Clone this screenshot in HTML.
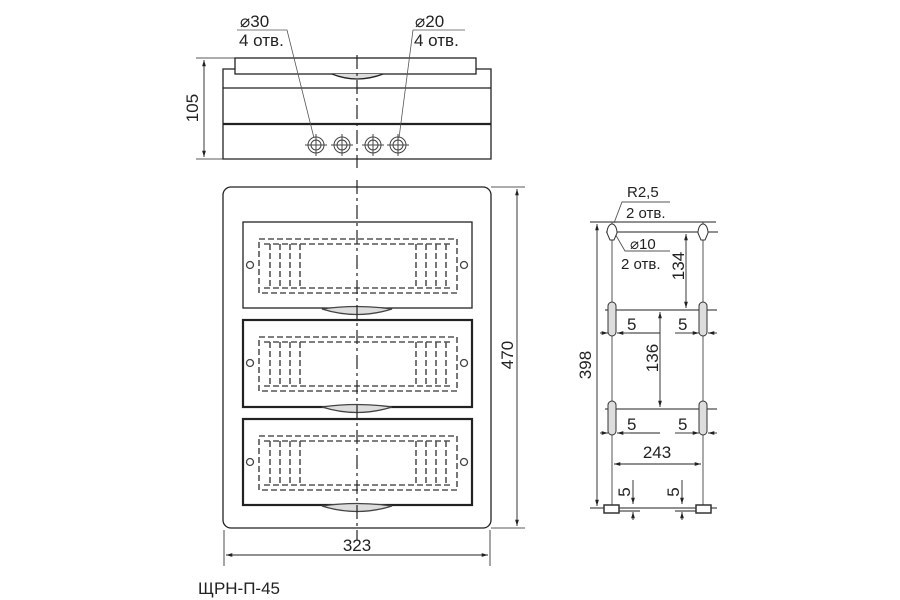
<!DOCTYPE html>
<html><head><meta charset="utf-8"><style>
html,body{margin:0;padding:0;background:#fff}
svg{display:block}
text{font-family:"Liberation Sans","DejaVu Sans",sans-serif;fill:#222}
</style></head><body>
<svg width="900" height="600" viewBox="0 0 900 600" xmlns="http://www.w3.org/2000/svg">
<defs>
<marker id="a" viewBox="0 0 10 10" refX="10" refY="5" markerWidth="7" markerHeight="7" orient="auto-start-reverse"><path d="M0,2 L10,5 L0,8z" fill="#222"/></marker>
<g id="panel">
 <rect x="259" y="17" width="198" height="54" fill="none" stroke="#555" stroke-width="1.6" stroke-dasharray="6,3"/>
 <path d="M264,22 H452 M264,66 H452" stroke="#555" stroke-width="1.6" stroke-dasharray="6,3" fill="none"/>
 <g stroke="#555" stroke-width="1.6" stroke-dasharray="6,3" fill="none">
  <path d="M270,22V66 M280,22V66 M290,22V66 M300,22V66 M416,22V66 M426,22V66 M436,22V66 M446,22V66"/>
 </g>
 <circle cx="250" cy="43" r="3.5" fill="none" stroke="#444"/>
 <circle cx="464" cy="43" r="3.5" fill="none" stroke="#444"/>
 <path d="M322,87 Q357,98 392,87 Q357,82 322,87Z" fill="#ddd" stroke="#444"/>
</g>
</defs>
<g stroke="#222" fill="none" stroke-width="1.3">
 <rect x="235" y="58" width="241" height="16" fill="#fff"/>
 <path d="M235,69 H223 V159 H491 V69 H476"/>
 <path d="M223,88 H491"/>
 <path d="M223,124 H491" stroke-width="2.2"/>
 <path d="M332,74 Q357,84 383,74" fill="#ddd"/>
 <g stroke="#444" stroke-width="1">
  <circle cx="316" cy="145" r="8"/><circle cx="316" cy="145" r="5"/><path d="M305,145H327M316,134V156"/>
  <circle cx="342" cy="145" r="8"/><circle cx="342" cy="145" r="5"/><path d="M331,145H353M342,134V156"/>
  <circle cx="373" cy="145" r="8"/><circle cx="373" cy="145" r="5"/><path d="M362,145H384M373,134V156"/>
  <circle cx="398" cy="145" r="8"/><circle cx="398" cy="145" r="5"/><path d="M387,145H409M398,134V156"/>
 </g>
 <path d="M357,55 V168" stroke-dasharray="14,4,3,4" stroke-width="1.2"/>
 <path d="M196,58 H235 M196,159 H223" stroke-width="0.8"/>
 <path d="M204,60 V157" stroke-width="0.9" marker-start="url(#a)" marker-end="url(#a)"/>
 <path d="M237,30 H287 L314,138" stroke-width="0.8" stroke="#555"/>
 <path d="M465,30 H413 L399,138" stroke-width="0.8" stroke="#555"/>

 <rect x="223" y="187" width="268" height="341" rx="8"/>
 <rect x="243" y="222" width="229" height="86" stroke-width="1.3"/>
 <rect x="243" y="320" width="229" height="87" stroke-width="2.2"/>
 <rect x="243" y="419" width="229" height="86" stroke-width="2.2"/>
 <use href="#panel" y="222"/>
 <use href="#panel" y="320"/>
 <use href="#panel" y="419"/>
 <path d="M357,180 V540" stroke-dasharray="14,4,3,4" stroke-width="1.2"/>
 <path d="M491,187 H525 M491,528 H525" stroke-width="0.8"/>
 <path d="M517,189 V526" stroke-width="0.9" marker-start="url(#a)" marker-end="url(#a)"/>
 <path d="M224,530 V566 M490,530 V566" stroke-width="0.8"/>
 <path d="M226,555 H488" stroke-width="0.9" marker-start="url(#a)" marker-end="url(#a)"/>

 <g stroke-width="0.9">
 <path d="M590,222 H716 M606,232 H718 M605,310 H717 M605,409 H717 M590,508 H717"/>
 <path d="M612,222 V508 M703,222 V508" stroke="#444"/>
 <path d="M597,224 V506" marker-start="url(#a)" marker-end="url(#a)"/>
 <path d="M686,234 V308" marker-start="url(#a)" marker-end="url(#a)"/>
 <path d="M660,312 V407" marker-start="url(#a)" marker-end="url(#a)"/>
 <path d="M614,464 H701" marker-start="url(#a)" marker-end="url(#a)"/>
 <path d="M600,333 H608" marker-end="url(#a)"/><path d="M630,333 H617" marker-end="url(#a)"/><path d="M630,333H660"/>
 <path d="M686,333 H699" marker-end="url(#a)"/><path d="M717,333 H708" marker-end="url(#a)"/><path d="M675,333H686"/>
 <path d="M600,433 H608" marker-end="url(#a)"/><path d="M630,433 H617" marker-end="url(#a)"/><path d="M630,433H660"/>
 <path d="M686,433 H699" marker-end="url(#a)"/><path d="M717,433 H708" marker-end="url(#a)"/><path d="M675,433H686"/>
 <path d="M633,480 V504" marker-end="url(#a)"/><path d="M633,520 V512" marker-end="url(#a)"/>
 <path d="M682,480 V504" marker-end="url(#a)"/><path d="M682,520 V512" marker-end="url(#a)"/>
 <path d="M619,511 H640 M675,511 H696" />
 <path d="M670,202 H622 L614,223" stroke="#555"/>
 <path d="M670,251 H625 L614,232" stroke="#555"/>
 </g>
 <g fill="#ddd" stroke="#333" stroke-width="1">
  <path d="M607,233 A5,9 0 1 1 617,233 L614,240 L610,240Z" fill="#fff"/>
  <path d="M698,233 A5,9 0 1 1 708,233 L705,240 L701,240Z" fill="#fff"/>
  <rect x="608" y="302" width="8" height="34" rx="4"/>
  <rect x="699" y="302" width="8" height="34" rx="4"/>
  <rect x="608" y="401" width="8" height="34" rx="4"/>
  <rect x="699" y="401" width="8" height="34" rx="4"/>
  <rect x="604" y="505" width="15" height="8" fill="#fff" stroke-width="1.5"/>
  <rect x="696" y="505" width="15" height="8" fill="#fff" stroke-width="1.5"/>
 </g>
</g>
<g font-size="17">
 <text x="240" y="27">⌀30</text>
 <text x="239" y="46">4 отв.</text>
 <text x="415" y="27">⌀20</text>
 <text x="414" y="46">4 отв.</text>
 <text transform="translate(198,108) rotate(-90)" text-anchor="middle">105</text>
 <text transform="translate(513,355) rotate(-90)" text-anchor="middle">470</text>
 <text x="357" y="551" text-anchor="middle">323</text>
 <text x="198" y="594" font-size="17">ЩРН-П-45</text>
 <text x="627" y="197" font-size="15">R2,5</text>
 <text x="626" y="218" font-size="15">2 отв.</text>
 <text x="630" y="249" font-size="15">⌀10</text>
 <text x="621" y="269" font-size="15">2 отв.</text>
 <text transform="translate(591,365) rotate(-90)" text-anchor="middle">398</text>
 <text transform="translate(684,266) rotate(-90)" text-anchor="middle">134</text>
 <text transform="translate(658,358) rotate(-90)" text-anchor="middle">136</text>
 <text x="657" y="458" text-anchor="middle">243</text>
 <text x="627" y="330">5</text>
 <text x="678" y="330">5</text>
 <text x="627" y="430">5</text>
 <text x="678" y="430">5</text>
 <text transform="translate(630,492) rotate(-90)" text-anchor="middle">5</text>
 <text transform="translate(679,492) rotate(-90)" text-anchor="middle">5</text>
</g>
</svg>
</body></html>
